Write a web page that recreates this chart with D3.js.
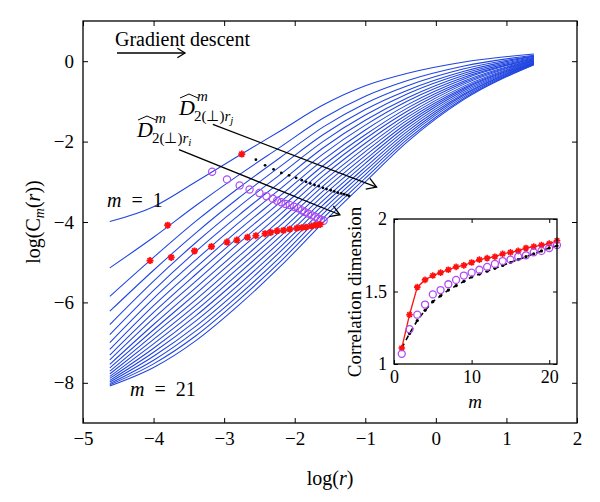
<!DOCTYPE html>
<html><head><meta charset="utf-8">
<script src="https://cdn.jsdelivr.net/npm/d3@7"></script>
<style>
body{margin:0;background:#fff}
svg{display:block}
text{font-family:"Liberation Serif","Times New Roman",serif;fill:#000}
</style>
</head><body>
<svg id="c" width="600" height="502"></svg>
<script>
// ---------------- data ----------------
const logR = [-4.62,-4.0,-3.4,-2.8,-2.2,-1.6,-1.0,-0.4,0.4,1.39];
const logC1  = [-3.99,-3.62,-3.00,-2.36,-1.73,-1.09,-0.61,-0.30,-0.02,0.18];
const logC2  = [-5.14,-4.38,-3.59,-2.84,-2.13,-1.42,-0.87,-0.48,-0.12,0.15];
const logC3  = [-5.85,-4.88,-3.98,-3.16,-2.39,-1.64,-1.05,-0.61,-0.19,0.13];
const logC4  = [-6.22,-5.20,-4.27,-3.41,-2.61,-1.83,-1.20,-0.72,-0.25,0.12];
const logC5  = [-6.55,-5.47,-4.51,-3.63,-2.81,-2.00,-1.34,-0.81,-0.30,0.10];
const logC6  = [-6.80,-5.70,-4.73,-3.84,-3.00,-2.16,-1.47,-0.91,-0.35,0.08];
const logC7  = [-7.00,-5.90,-4.94,-4.03,-3.17,-2.31,-1.59,-0.99,-0.40,0.07];
const logC8  = [-7.17,-6.08,-5.13,-4.21,-3.34,-2.46,-1.71,-1.08,-0.44,0.06];
const logC9  = [-7.31,-6.25,-5.30,-4.38,-3.50,-2.60,-1.83,-1.16,-0.49,0.04];
const logC10 = [-7.43,-6.40,-5.47,-4.54,-3.65,-2.73,-1.93,-1.24,-0.53,0.03];
const logC11 = [-7.54,-6.55,-5.63,-4.71,-3.80,-2.86,-2.04,-1.32,-0.57,0.02];
const logC12 = [-7.63,-6.68,-5.78,-4.86,-3.94,-2.99,-2.15,-1.39,-0.62,0.01];
const logC13 = [-7.71,-6.80,-5.93,-5.01,-4.08,-3.11,-2.25,-1.46,-0.66,0.00];
const logC14 = [-7.78,-6.92,-6.07,-5.15,-4.22,-3.23,-2.35,-1.53,-0.69,-0.02];
const logC15 = [-7.84,-7.03,-6.20,-5.29,-4.35,-3.35,-2.45,-1.60,-0.73,-0.03];
const logC16 = [-7.89,-7.14,-6.33,-5.43,-4.48,-3.47,-2.54,-1.67,-0.77,-0.04];
const logC17 = [-7.94,-7.24,-6.46,-5.57,-4.61,-3.58,-2.64,-1.74,-0.81,-0.05];
const logC18 = [-7.98,-7.34,-6.59,-5.70,-4.73,-3.69,-2.73,-1.81,-0.84,-0.06];
const logC19 = [-8.02,-7.44,-6.71,-5.83,-4.86,-3.80,-2.82,-1.87,-0.88,-0.07];
const logC20 = [-8.05,-7.53,-6.83,-5.95,-4.98,-3.91,-2.91,-1.94,-0.92,-0.08];
const logC21 = [-8.08,-7.62,-6.95,-6.08,-5.10,-4.02,-3.00,-2.00,-0.95,-0.09];
const curvesC = [logC1,logC2,logC3,logC4,logC5,logC6,logC7,logC8,logC9,logC10,logC11,
                 logC12,logC13,logC14,logC15,logC16,logC17,logC18,logC19,logC20,logC21];

// marker positions on the curves (log r, log C)
const redX = [-2.75,-3.80,-4.05,-3.75,-3.42,-3.18,-2.96,-2.82,-2.67,-2.55,-2.42,-2.34,-2.25,-2.16,-2.07,-1.97,-1.90,-1.84,-1.76,-1.70,-1.64];
const redY = [-2.31,-4.08,-4.96,-4.88,-4.72,-4.61,-4.50,-4.45,-4.38,-4.34,-4.29,-4.26,-4.22,-4.21,-4.18,-4.15,-4.14,-4.13,-4.10,-4.08,-4.06];
const purX = [-3.17,-2.96,-2.78,-2.64,-2.50,-2.40,-2.31,-2.25,-2.19,-2.13,-2.07,-2.01,-1.95,-1.90,-1.86,-1.81,-1.76,-1.71,-1.67,-1.63,-1.59];
const purY = [-2.75,-2.94,-3.09,-3.19,-3.28,-3.36,-3.42,-3.47,-3.51,-3.55,-3.58,-3.62,-3.66,-3.71,-3.75,-3.79,-3.83,-3.87,-3.91,-3.94,-3.97];
const blkX = [-2.75,-2.55,-2.42,-2.30,-2.19,-2.08,-1.98,-1.90,-1.84,-1.78,-1.72,-1.66,-1.60,-1.55,-1.49,-1.44,-1.39,-1.34,-1.30,-1.26,-1.23];
const blkY = [-2.31,-2.45,-2.59,-2.69,-2.78,-2.84,-2.90,-2.96,-3.00,-3.04,-3.08,-3.11,-3.15,-3.18,-3.21,-3.24,-3.27,-3.29,-3.31,-3.33,-3.35];

// inset: correlation dimension vs m
const mVals = [1,2,3,4,5,6,7,8,9,10,11,12,13,14,15,16,17,18,19,20,21];
const dimRed    = [1.11,1.34,1.53,1.58,1.61,1.63,1.65,1.67,1.68,1.70,1.72,1.73,1.74,1.76,1.77,1.78,1.80,1.81,1.82,1.83,1.85];
const dimPurple = [1.07,1.24,1.34,1.41,1.48,1.51,1.55,1.58,1.61,1.63,1.65,1.67,1.69,1.71,1.72,1.74,1.75,1.77,1.78,1.80,1.82];
const dimBlack  = [1.11,1.21,1.30,1.37,1.43,1.47,1.51,1.54,1.57,1.60,1.62,1.64,1.66,1.68,1.70,1.72,1.74,1.76,1.78,1.80,1.815];

const xTicks = [-5,-4,-3,-2,-1,0,1,2];
const yTicks = [0,-2,-4,-6,-8];
const insetXTicks = [0,10,20];
const insetYTicks = [1,1.5,2];

// ---------------- drawing ----------------
const SERIF = '"Liberation Serif","Times New Roman",serif';
const svg = d3.select('#c');
const BLUE = '#1f44e0', RED = '#ff1010', PURPLE = '#b04cf2';
const x = d3.scaleLinear().domain([-5,2]).range([83,577]);
const y = d3.scaleLinear().domain([-9,1]).range([423,21]);
const FS = 19;

// curves
const line = d3.line().x((d,i)=>x(logR[i])).y(d=>y(d)).curve(d3.curveMonotoneX);
svg.append('g').selectAll('path').data(curvesC).join('path')
  .attr('d', line).attr('fill','none').attr('stroke',BLUE).attr('stroke-width',1.05);

function asterisk(r){
  const a = r*0.7071;
  return `M${-r},0L${r},0M0,${-r}L0,${r}M${-a},${-a}L${a},${a}M${-a},${a}L${a},${-a}`;
}

// markers on main plot
svg.append('g').selectAll('circle').data(purX).join('circle')
  .attr('cx',d=>x(d)).attr('cy',(d,i)=>y(purY[i])).attr('r',3.6)
  .attr('fill','none').attr('stroke',PURPLE).attr('stroke-width',1.2);
svg.append('g').selectAll('circle').data(blkX).join('circle')
  .attr('cx',d=>x(d)).attr('cy',(d,i)=>y(blkY[i])).attr('r',1.4).attr('fill','#000');
svg.append('g').selectAll('path').data(redX).join('path')
  .attr('transform',(d,i)=>`translate(${x(d)},${y(redY[i])})`)
  .attr('d',asterisk(3.5)).attr('stroke',RED).attr('stroke-width',1.8).attr('fill','none');

// axes (ticks inward)
const gx = svg.append('g').attr('transform','translate(0,423)')
  .call(d3.axisBottom(x).tickValues(xTicks).tickSize(-5).tickPadding(9).tickFormat(d3.format('d')));
const gy = svg.append('g').attr('transform','translate(83,0)')
  .call(d3.axisLeft(y).tickValues(yTicks).tickSize(-5).tickPadding(9).tickFormat(d3.format('d')));
const gxt = svg.append('g').attr('transform','translate(0,21)')
  .call(d3.axisTop(x).tickValues(xTicks).tickSize(-5).tickFormat(''));
const gyr = svg.append('g').attr('transform','translate(577,0)')
  .call(d3.axisRight(y).tickValues(yTicks).tickSize(-5).tickFormat(''));
[gx,gy,gxt,gyr].forEach(g=>{
  g.attr('font-family',SERIF).attr('font-size',FS);
  g.select('.domain').remove();
  g.selectAll('line').attr('stroke','#000');
  g.selectAll('text').attr('fill','#000');
});
svg.append('rect').attr('x',83).attr('y',21).attr('width',494).attr('height',402)
  .attr('fill','none').attr('stroke','#000').attr('stroke-width',1.3);

// axis titles
const xl = svg.append('text').attr('x',330).attr('y',485).attr('text-anchor','middle').style('font-size','20px');
xl.append('tspan').text('log(');
xl.append('tspan').attr('font-style','italic').text('r');
xl.append('tspan').text(')');
const yl = svg.append('text').attr('transform','translate(40,222) rotate(-90)').attr('text-anchor','middle').style('font-size','20px');
yl.append('tspan').text('log(C');
yl.append('tspan').attr('font-style','italic').attr('font-size','14px').attr('dy',4).text('m');
yl.append('tspan').attr('dy',-4).text('(');
yl.append('tspan').attr('font-style','italic').text('r');
yl.append('tspan').text('))');

function arrow(x1,y1,x2,y2,head){
  svg.append('line').attr('x1',x1).attr('y1',y1).attr('x2',x2).attr('y2',y2)
    .attr('stroke','#000').attr('stroke-width',1.3);
  const ang = Math.atan2(y2-y1,x2-x1), h = head, w = 0.55;
  const p1 = [x2 - h*Math.cos(ang-w), y2 - h*Math.sin(ang-w)];
  const p2 = [x2 - h*Math.cos(ang+w), y2 - h*Math.sin(ang+w)];
  svg.append('path').attr('d',`M${p1}L${x2},${y2}L${p2}`).attr('fill','none')
    .attr('stroke','#000').attr('stroke-width',1.3);
}

svg.append('text').attr('x',115).attr('y',46).style('font-size','20px').text('Gradient descent');
arrow(117,53,185,53,9);

arrow(x(-3.16),y(-1.57),x(-0.84),y(-3.13),11);
arrow(x(-3.64),y(-2.20),x(-1.36),y(-3.82),11);

function dhat(px,py,sub){
  const t = svg.append('text').attr('x',px).attr('y',py).style('font-size','22px');
  t.append('tspan').attr('font-style','italic').text('D');
  t.append('tspan').attr('font-style','italic').attr('font-size','15px').attr('dx',2).attr('dy',-14).text('m');
  const s = svg.append('text').attr('x',px+15).attr('y',py+6).style('font-size','15px');
  s.append('tspan').text('2(⊥)');
  s.append('tspan').attr('font-style','italic').text('r');
  s.append('tspan').attr('font-style','italic').attr('font-size','11px').attr('dy',3).text(sub);
  svg.append('path').attr('d',`M${px+1},${py-17}L${px+10},${py-21}L${px+19},${py-17}`)
    .attr('fill','none').attr('stroke','#000').attr('stroke-width',1);
}
dhat(179,115,'j');
dhat(137,137,'i');

function mlab(px,py,txt){
  const t = svg.append('text').attr('x',px).attr('y',py).style('font-size','20px');
  t.append('tspan').attr('font-style','italic').text('m');
  t.append('tspan').attr('xml:space','preserve').text('\u2002=\u2002'+txt);
}
mlab(107,207,'1');
mlab(130,396,'21');

// ---------------- inset ----------------
const ix = d3.scaleLinear().domain([0,21]).range([394,557]);
const iy = d3.scaleLinear().domain([1,2]).range([364,219]);
svg.append('rect').attr('x',394).attr('y',219).attr('width',163).attr('height',145).attr('fill','#fff');
const igx = svg.append('g').attr('transform','translate(0,364)')
  .call(d3.axisBottom(ix).tickValues(insetXTicks).tickSize(-4).tickPadding(6).tickFormat(d3.format('d')));
const igy = svg.append('g').attr('transform','translate(394,0)')
  .call(d3.axisLeft(iy).tickValues(insetYTicks).tickSize(-4).tickPadding(7).tickFormat(d3.format('')));
const igxt = svg.append('g').attr('transform','translate(0,219)')
  .call(d3.axisTop(ix).tickValues(insetXTicks).tickSize(-4).tickFormat(''));
const igyr = svg.append('g').attr('transform','translate(557,0)')
  .call(d3.axisRight(iy).tickValues(insetYTicks).tickSize(-4).tickFormat(''));
[igx,igy,igxt,igyr].forEach(g=>{
  g.attr('font-family',SERIF).attr('font-size',18);
  g.select('.domain').remove();
  g.selectAll('line').attr('stroke','#000');
  g.selectAll('text').attr('fill','#000');
});

const iline = arr => d3.line().x((d,i)=>ix(mVals[i])).y(d=>iy(d))(arr);
svg.append('path').attr('d',iline(dimBlack)).attr('fill','none').attr('stroke','#000')
  .attr('stroke-width',1.6).attr('stroke-dasharray','5,4');
svg.append('g').selectAll('circle').data(dimBlack).join('circle')
  .attr('cx',(d,i)=>ix(mVals[i])).attr('cy',d=>iy(d)).attr('r',1.6).attr('fill','#000');
svg.append('path').attr('d',iline(dimRed)).attr('fill','none').attr('stroke',RED).attr('stroke-width',1.3);
svg.append('g').selectAll('path').data(dimRed).join('path')
  .attr('transform',(d,i)=>`translate(${ix(mVals[i])},${iy(d)})`)
  .attr('d',asterisk(3.3)).attr('stroke',RED).attr('stroke-width',1.6);
svg.append('g').selectAll('circle').data(dimPurple).join('circle')
  .attr('cx',(d,i)=>ix(mVals[i])).attr('cy',d=>iy(d)).attr('r',3.5)
  .attr('fill','none').attr('stroke',PURPLE).attr('stroke-width',1.3);

svg.append('rect').attr('x',394).attr('y',219).attr('width',163).attr('height',145)
  .attr('fill','none').attr('stroke','#000').attr('stroke-width',1.3);

const ml = svg.append('text').attr('x',475).attr('y',408).attr('text-anchor','middle').style('font-size','19px');
ml.append('tspan').attr('font-style','italic').text('m');
svg.append('text').attr('transform','translate(361,292) rotate(-90)').attr('text-anchor','middle')
  .style('font-size','19px').text('Correlation dimension');
</script>
</body></html>
